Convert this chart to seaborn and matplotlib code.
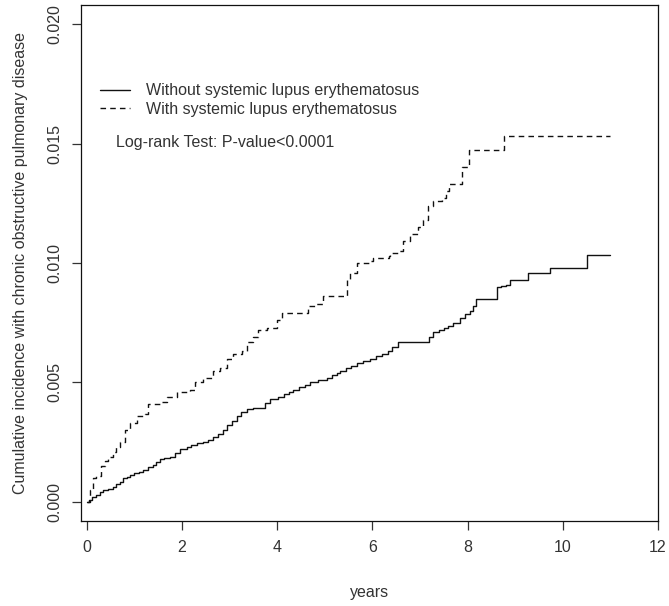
import pandas as pd
import matplotlib
matplotlib.use("Agg")
import matplotlib.pyplot as plt
import seaborn as sns

# years / cumulative incidence (x1000)
years_without = [0, 0.05, 0.12, 0.2, 0.27, 0.35, 0.45, 0.55, 0.62, 0.7,
                 0.76, 0.84, 0.9, 1.0, 1.1, 1.18, 1.28, 1.39, 1.45, 1.54,
                 1.62, 1.75, 1.85, 1.96, 2.1, 2.2, 2.32, 2.44, 2.55, 2.65,
                 2.75, 2.86, 2.95, 3.05, 3.16, 3.25, 3.37, 3.5, 3.64, 3.75,
                 3.85, 4.02, 4.15, 4.25, 4.34, 4.45, 4.58, 4.69, 4.85, 5.05,
                 5.15, 5.25, 5.33, 5.45, 5.55, 5.68, 5.8, 5.96, 6.08, 6.2,
                 6.32, 6.42, 6.53, 7.2, 7.28, 7.4, 7.5, 7.58, 7.7, 7.85,
                 7.95, 8.06, 8.12, 8.17, 8.61, 8.7, 8.8, 8.9, 9.26, 9.73,
                 10.5, 11.0]
inc_without = [0, 0.1, 0.2, 0.3, 0.42, 0.5, 0.55, 0.63, 0.75, 0.85,
               1.0, 1.05, 1.13, 1.2, 1.27, 1.34, 1.45, 1.55, 1.65, 1.8,
               1.85, 1.9, 2.05, 2.2, 2.3, 2.38, 2.45, 2.5, 2.58, 2.7,
               2.85, 3.0, 3.2, 3.4, 3.6, 3.75, 3.9, 3.92, 3.95, 4.15,
               4.3, 4.4, 4.5, 4.6, 4.7, 4.8, 4.9, 5.0, 5.1, 5.2,
               5.3, 5.4, 5.5, 5.6, 5.7, 5.8, 5.9, 6.0, 6.1, 6.2,
               6.3, 6.5, 6.7, 6.9, 7.1, 7.2, 7.3, 7.35, 7.5, 7.7,
               7.85, 8.0, 8.2, 8.5, 9.0, 9.05, 9.1, 9.3, 9.6, 9.8,
               10.35, 10.35]

years_with = [0, 0.06, 0.13, 0.2, 0.3, 0.38, 0.45, 0.55, 0.62, 0.7,
              0.8, 0.9, 1.05, 1.22, 1.29, 1.54, 1.68, 1.9, 2.17, 2.27,
              2.44, 2.65, 2.8, 2.95, 3.07, 3.26, 3.37, 3.5, 3.6, 3.79,
              4.0, 4.1, 4.65, 4.8, 4.97, 5.47, 5.54, 5.68, 5.96, 6.02,
              6.34, 6.38, 6.55, 6.65, 6.8, 6.95, 7.07, 7.16, 7.28, 7.47,
              7.54, 7.6, 7.89, 8.04, 8.76, 11.0]
inc_with = [0, 0.5, 1.0, 1.1, 1.5, 1.7, 1.9, 2.1, 2.3, 2.5,
            3.0, 3.3, 3.6, 3.7, 4.1, 4.2, 4.4, 4.6, 4.7, 5.0,
            5.2, 5.5, 5.6, 6.0, 6.2, 6.3, 6.7, 6.9, 7.2, 7.3,
            7.6, 7.9, 8.2, 8.3, 8.6, 9.3, 9.6, 10.0, 10.1, 10.2,
            10.3, 10.4, 10.5, 10.9, 11.2, 11.5, 11.8, 12.4, 12.6, 12.7,
            13.0, 13.3, 14.0, 14.75, 15.3, 15.3]

labels = ["Without systemic lupus erythematosus", "With systemic lupus erythematosus"]
x_ticks = [0, 2, 4, 6, 8, 10, 12]
y_ticks = [0.000, 0.005, 0.010, 0.015, 0.020]

df_without = pd.DataFrame({"years": years_without, "inc": [v / 1000 for v in inc_without]})
df_with = pd.DataFrame({"years": years_with, "inc": [v / 1000 for v in inc_with]})

sns.set_style("white")
plt.rcParams["font.family"] = ["Liberation Sans", "DejaVu Sans"]
fs = 11.5
txt = "#333333"

fig = plt.figure(figsize=(6.69, 6.06), dpi=100)
ax = fig.add_axes([81 / 669, 1 - 521 / 606, 577 / 669, 516 / 606])

sns.lineplot(data=df_without, x="years", y="inc", ax=ax, color="#111111",
             lw=1.0, drawstyle="steps-post", estimator=None, label=labels[0])
sns.lineplot(data=df_with, x="years", y="inc", ax=ax, color="#111111",
             lw=1.0, drawstyle="steps-post", estimator=None, label=labels[1],
             linestyle=(0, (4, 3)))

ax.set_xlim(-0.12, 12.0)
ax.set_ylim(-0.0008, 0.0208)
ax.set_xticks(x_ticks)
ax.set_xticklabels([str(t) for t in x_ticks], fontsize=fs, color=txt)
ax.set_yticks(y_ticks)
ax.set_yticklabels([f"{t:.3f}" for t in y_ticks], fontsize=fs, color=txt,
                   rotation=90, va="center")
ax.tick_params(axis="both", direction="out", length=6.5, width=0.9,
               color="#333333", left=True, bottom=True)
ax.tick_params(axis="x", pad=7)
ax.tick_params(axis="y", pad=7)
for s in ax.spines.values():
    s.set_visible(True)
    s.set_color("#111111")
    s.set_linewidth(0.9)

ax.set_xlabel("years", fontsize=fs, color=txt, labelpad=22)
ax.set_ylabel("Cumulative incidence with chronic obstructive pulmonary disease",
              fontsize=fs, color=txt, labelpad=14)

ax.legend(loc="upper left", bbox_to_anchor=(0.033, 0.848), frameon=False,
          fontsize=fs, borderaxespad=0, borderpad=0, handlelength=1.9,
          handletextpad=0.95, labelspacing=0.2, labelcolor=txt)
ax.text(0.0607, 0.7326, "Log-rank Test: P-value<0.0001", transform=ax.transAxes,
        fontsize=fs, color=txt, va="center", ha="left")

fig.savefig("out.png", dpi=100, facecolor="white")
